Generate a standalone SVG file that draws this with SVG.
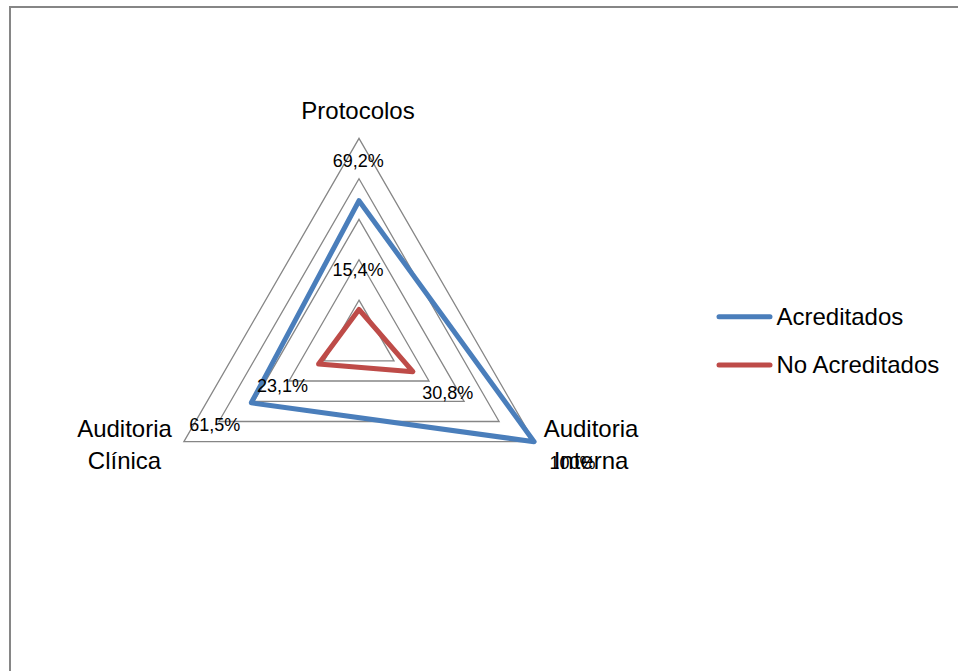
<svg xmlns="http://www.w3.org/2000/svg" width="958" height="671" viewBox="0 0 958 671">
  <style>
    .frame { fill: #ffffff; stroke: #868686; stroke-width: 2; }
    .ring { fill: none; stroke: #868686; stroke-width: 1.3; }
    .series { fill: none; stroke-width: 5; stroke-linejoin: round; stroke-linecap: round; }
    .acr { stroke: #4a7ebb; }
    .noacr { stroke: #be4b48; }
    .cat { font-family: "Liberation Sans", Arial, sans-serif; font-size: 24px; fill: #000000; }
    .val { font-family: "Liberation Sans", Arial, sans-serif; font-size: 18px; fill: #000000; text-anchor: middle; }
    .mid { text-anchor: middle; }
  </style>

  <rect width="958" height="671" fill="#ffffff"/>
  <rect class="frame" x="10" y="7" width="960" height="700"/>

  <!-- radar grid: rings at 20% steps, centre (359, 340.6) -->
  <g id="grid">
    <polygon class="ring" points="359,138.4 534.1,441.7 183.9,441.7"/>
    <polygon class="ring" points="359,178.8 499.1,421.5 218.9,421.5"/>
    <polygon class="ring" points="359,219.3 464.1,401.3 253.9,401.3"/>
    <polygon class="ring" points="359,259.7 429,381 289,381"/>
    <polygon class="ring" points="359,300.2 394,360.8 324,360.8"/>
  </g>

  <!-- series outlines -->
  <g id="connectors">
    <polygon id="series-acreditados" class="series acr" points="359,200.7 534.1,441.7 251.3,402.8"/>
    <polygon id="series-no-acreditados" class="series noacr" points="359,309.5 412.9,371.7 318.6,364"/>
  </g>

  <!-- category labels -->
  <g id="axis-protocolos">
    <text class="cat mid" x="358" y="119">Protocolos</text>
  </g>
  <g id="axis-auditoria-interna">
    <text class="cat mid" x="591" y="437">Auditoria</text>
    <text class="cat mid" x="591" y="469">Interna</text>
  </g>
  <g id="axis-auditoria-clinica">
    <text class="cat mid" x="124.5" y="437">Auditoria</text>
    <text class="cat mid" x="124.5" y="469">Clínica</text>
  </g>

  <!-- data labels -->
  <g id="labels-acreditados">
    <text class="val" x="358.3" y="166.5">69,2%</text>
    <text class="val" x="572.5" y="469">100%</text>
    <text class="val" x="214.8" y="430.5">61,5%</text>
  </g>
  <g id="labels-no-acreditados">
    <text class="val" x="358" y="275.5">15,4%</text>
    <text class="val" x="447.8" y="399">30,8%</text>
    <text class="val" x="282.5" y="392">23,1%</text>
  </g>

  <!-- legend -->
  <g id="legend-acreditados">
    <line class="series acr" x1="719" y1="316.7" x2="770" y2="316.7"/>
    <text class="cat" x="776.5" y="325">Acreditados</text>
  </g>
  <g id="legend-no-acreditados">
    <line class="series noacr" x1="719" y1="365" x2="770" y2="365"/>
    <text class="cat" x="776.5" y="373.3">No Acreditados</text>
  </g>
</svg>
